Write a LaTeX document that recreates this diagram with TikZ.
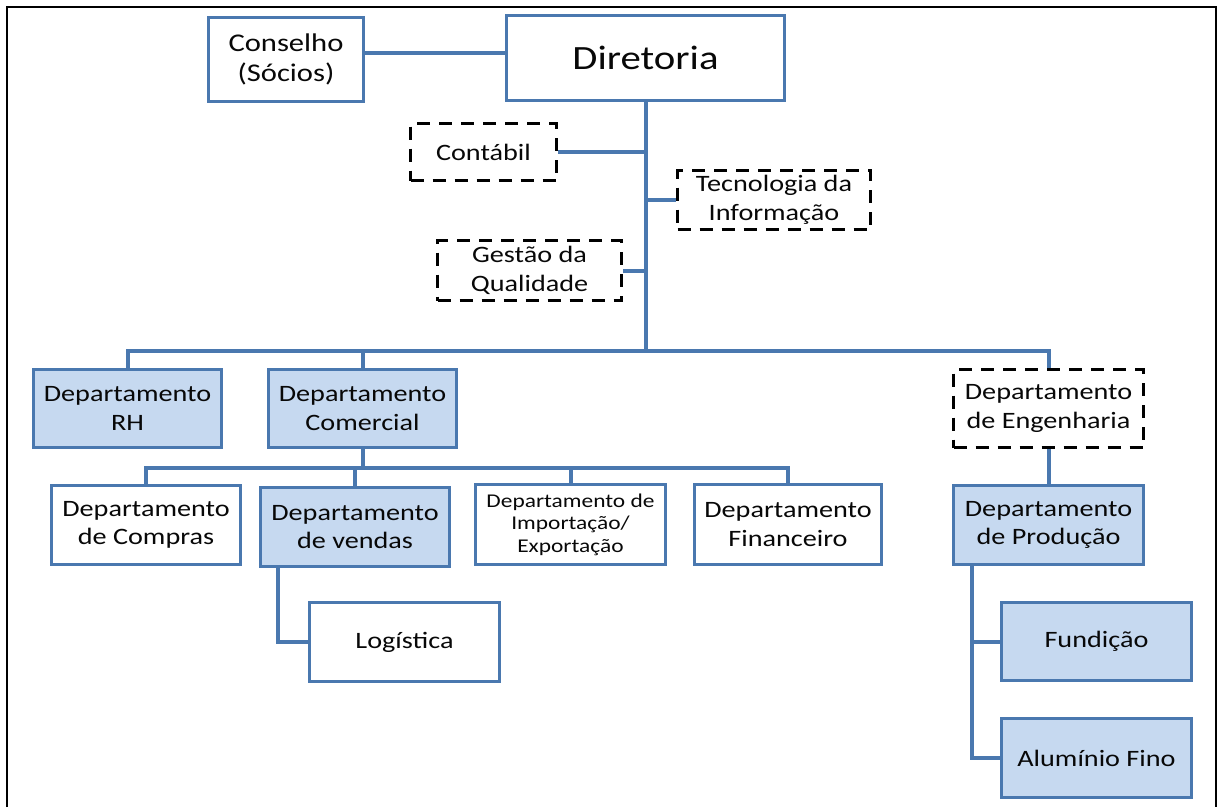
\documentclass[tikz,border=0pt]{standalone}
\usepackage{fontspec}
\setmainfont{Carlito}[FakeStretch=1.2]
\usetikzlibrary{calc}

\definecolor{edgeblue}{RGB}{74,120,175}
\definecolor{unitfill}{RGB}{198,217,240}
\definecolor{inktext}{RGB}{8,8,8}

\tikzset{
  unit/.style={draw=edgeblue, line width=3.5pt, align=center, text=inktext,
    inner sep=0pt, font=\fontsize{23.5}{28.5}\selectfont},
  shaded/.style={unit, fill=unitfill},
  plain/.style={unit, fill=white},
  dashedunit/.style={unit, draw=black, line width=3pt, dash pattern=on 13pt off 9pt},
  link/.style={draw=edgeblue, line width=4pt},
}

\begin{document}
\begin{tikzpicture}[x={(1pt,0pt)}, y={(0pt,-1pt)}]
\useasboundingbox (0,0) rectangle (1217,807);

% outer frame, open at the bottom
\draw[line width=2.5pt, black] (7,807) -- (7,7) -- (1216,7) -- (1216,807);

% top level
\node[plain, minimum width=155pt, minimum height=84pt,
  font=\fontsize{25.5}{30}\selectfont] (conselho) at (286,59.5)
  {Conselho\\(Sócios)};
\node[plain, minimum width=278pt, minimum height=85pt,
  font=\fontsize{34}{40}\selectfont] (diretoria) at (645.5,58) {Diretoria};

% staff units
\node[dashedunit, minimum width=146pt, minimum height=57pt] (contabil) at (483.5,152) {Contábil};
\node[dashedunit, minimum width=193pt, minimum height=59pt] (ti) at (774,200) {Tecnologia da\\Informação};
\node[dashedunit, minimum width=184pt, minimum height=60pt] (gestao) at (529.5,270.5) {Gestão da\\Qualidade};

% departments
\node[shaded, minimum width=188pt, minimum height=78pt] (rh) at (127.5,408.5) {Departamento\\RH};
\node[shaded, minimum width=188pt, minimum height=78pt] (comercial) at (362.5,408.5) {Departamento\\Comercial};
\node[dashedunit, minimum width=190pt, minimum height=78pt] (eng) at (1048.5,408.5) {Departamento\\de Engenharia};

% commercial branch
\node[plain, minimum width=189pt, minimum height=79pt] (compras) at (146,525) {Departamento\\de Compras};
\node[shaded, minimum width=189pt, minimum height=79pt] (vendas) at (355,527) {Departamento\\de vendas};
\node[plain, minimum width=190pt, minimum height=80pt,
  font=\fontsize{19.5}{22.5}\selectfont] (impexp) at (570.5,524.5)
  {Departamento de\\Importação/\\Exportação};
\node[plain, minimum width=187pt, minimum height=80pt] (fin) at (788,524.5) {Departamento\\Financeiro};
\node[plain, minimum width=190pt, minimum height=79pt] (logistica) at (404.5,642) {Logística};

% engineering branch
\node[shaded, minimum width=190pt, minimum height=79pt] (producao) at (1048.5,525) {Departamento\\de Produção};
\node[shaded, minimum width=190pt, minimum height=78pt] (fundicao) at (1096.5,641.5) {Fundição};
\node[shaded, minimum width=190pt, minimum height=79pt] (aluminio) at (1096.5,758) {Alumínio Fino};

% guide coordinates for the connector runs
\coordinate (boardline) at (0,53);
\coordinate (mainbar) at (0,351);
\coordinate (salesbar) at (0,468);
\coordinate (salesdrop) at (278,0);
\coordinate (proddrop) at (972,0);

% connectors
\draw[link] (conselho.east |- boardline) -- (diretoria.west |- boardline);
\draw[link] (diretoria.south) -- (diretoria.south |- mainbar);
\draw[link] (contabil.east) -- (contabil.east -| diretoria.south);
\draw[link] (ti.west) -- (ti.west -| diretoria.south);
\draw[link] (gestao.east) -- (gestao.east -| diretoria.south);

\draw[link] (rh.north) -- (rh.north |- mainbar) -- (eng.north |- mainbar) -- (eng.north);
\draw[link] (comercial.north) -- (comercial.north |- mainbar);

\draw[link] (comercial.south) -- (comercial.south |- salesbar);
\draw[link] (compras.north) -- (compras.north |- salesbar) -- (fin.north |- salesbar) -- (fin.north);
\draw[link] (vendas.north) -- (vendas.north |- salesbar);
\draw[link] (impexp.north) -- (impexp.north |- salesbar);
\draw[link] (vendas.south -| salesdrop) |- (logistica.west);

\draw[link] (eng.south) -- (producao.north);
\draw[link] (producao.south -| proddrop) |- (fundicao.west);
\draw[link] (producao.south -| proddrop) |- (aluminio.west);
\end{tikzpicture}
\end{document}
